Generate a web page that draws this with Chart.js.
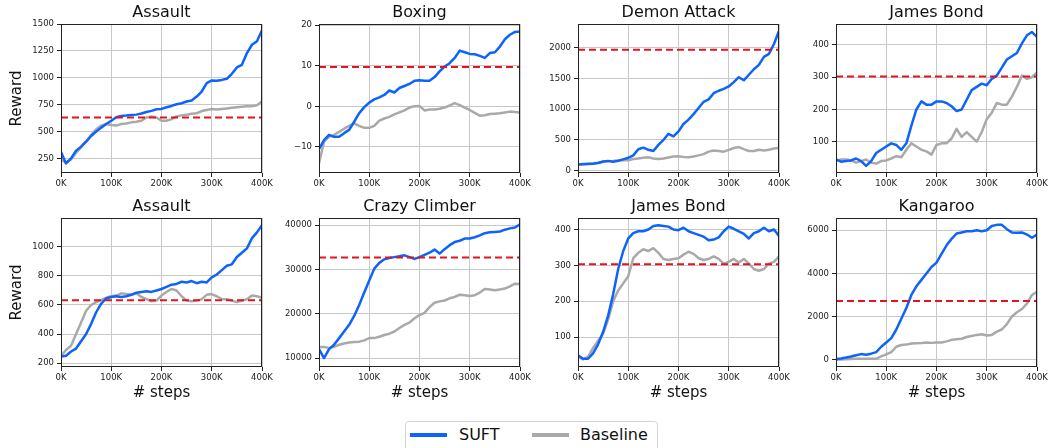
<!DOCTYPE html>
<html>
<head>
<meta charset="utf-8">
<script src="https://cdn.jsdelivr.net/npm/chart.js@4.4.0/dist/chart.umd.min.js"></script>
<style>
  body { margin: 0; width: 1048px; height: 448px; background: #fff; position: relative; overflow: hidden; font-family: 'DejaVu Sans', sans-serif; }
  .panel { position: absolute; }
  #legend { position: absolute; left: 405px; top: 421px; width: 251px; height: 40px; border: 1px solid #d4d4d4; border-radius: 4px; background: #fff; }
  #legend .sw { position: absolute; top: 11px; width: 37px; height: 4px; }
  #legend .lb { position: absolute; top: 3px; font-size: 16px; line-height: 20px; color: #111; }
</style>
</head>
<body>
<div id="charts"></div>
<div id="legend">
  <span class="sw" style="left:4px;background:#0d63fb"></span><span class="lb" style="left:53px">SUFT</span>
  <span class="sw" style="left:126px;background:#a9a9a9"></span><span class="lb" style="left:174px">Baseline</span>
</div>
<script>
// training steps (x axis)
const steps = [0,10000,20000,30000,40000,50000,60000,70000,80000,90000,100000,110000,120000,130000,140000,150000,160000,170000,180000,190000,200000,210000,220000,230000,240000,250000,260000,270000,280000,290000,300000,310000,320000,330000,340000,350000,360000,370000,380000,390000,400000];
const xTicks = [0, 100000, 200000, 300000, 400000];

const titles = ['Assault', 'Boxing', 'Demon Attack', 'James Bond', 'Assault', 'Crazy Climber', 'James Bond', 'Kangaroo'];

const assault1Suft = [310,203,250,322,359,405,458,500,536,570,600,633,645,648,654,657,667,682,692,707,710,726,738,754,763,779,788,825,872,950,975,972,980,990,1037,1096,1120,1230,1307,1340,1441];
const assault1Base = [240,210,240,300,355,410,470,520,555,570,560,555,570,575,585,590,600,630,640,630,600,600,615,640,650,655,665,670,690,700,710,705,710,715,720,725,730,735,735,745,780];

const boxingSuft = [-10.5,-8.3,-7.0,-7.5,-7.5,-6.6,-5.8,-3.8,-1.7,-0.2,0.9,1.7,2.2,2.8,3.9,3.4,4.5,5.0,5.5,6.3,6.4,6.3,6.3,7.2,8.6,9.8,10.6,11.9,13.7,13.3,12.9,12.8,12.4,11.9,13.1,13.3,14.7,16.5,17.6,18.3,18.4];
const boxingBase = [-14,-8.7,-7.5,-7,-6.3,-5.5,-4.8,-4.2,-4.8,-5.3,-5.3,-4.8,-3.5,-3.0,-2.6,-2.0,-1.5,-1.0,-0.3,0.0,0.1,-1.0,-0.8,-0.8,-0.6,-0.3,0.2,0.8,0.3,-0.3,-0.9,-1.6,-2.3,-2.2,-1.9,-1.8,-1.7,-1.5,-1.3,-1.4,-1.5];

const demonSuft = [100,105,110,115,125,150,160,145,160,185,210,250,350,375,340,320,420,500,600,560,640,760,830,920,1020,1120,1160,1260,1300,1330,1370,1440,1520,1470,1560,1650,1720,1850,1900,2060,2270];
const demonBase = [100,110,115,120,130,145,155,160,170,175,170,190,200,210,220,200,190,200,215,230,235,225,220,230,250,270,310,330,320,310,340,370,385,350,320,320,340,330,340,360,370];

const jamesbond1Suft = [45,38,40,42,48,40,25,40,65,75,85,95,90,75,95,150,200,225,215,215,225,225,220,210,195,200,230,260,270,280,275,295,305,330,355,365,375,405,430,440,425];
const jamesbond1Base = [40,45,45,42,35,40,45,35,32,40,42,48,55,52,75,95,85,75,70,60,90,95,95,110,140,115,130,115,100,130,170,190,220,215,215,240,270,305,295,300,315];

const assault2Suft = [245,250,280,300,350,400,470,550,610,645,655,660,655,660,670,685,690,695,690,700,710,725,740,745,760,755,765,750,760,755,790,810,840,870,880,930,960,990,1060,1100,1150];
const assault2Base = [250,290,320,400,480,560,600,620,635,650,660,665,680,675,670,680,655,640,625,630,665,690,710,700,660,630,625,630,640,670,675,660,640,640,630,620,630,640,665,660,650];

const climberSuft = [12000,10000,12000,13000,14500,16000,17500,19500,22000,24800,27500,30200,31500,32300,32600,32800,33000,33200,32800,32400,32800,33300,33800,34500,33600,34600,35500,36200,36500,37000,37000,37300,37700,38200,38400,38500,38600,39000,39300,39500,40200];
const climberBase = [12500,12500,12300,12500,13000,13300,13500,13600,13700,14000,14500,14500,14800,15200,15500,16000,16800,17500,18000,19000,19700,20200,21500,22500,22800,23000,23500,23800,24300,24200,24000,24200,24800,25600,25500,25300,25500,25700,26200,26800,26700];

const jamesbond2Suft = [50,40,40,55,80,115,160,220,290,340,375,390,395,395,400,410,412,410,408,400,398,405,395,390,385,380,370,372,378,395,408,402,395,388,375,390,395,405,395,400,382];
const jamesbond2Base = [45,38,45,70,90,110,150,200,230,250,270,320,335,345,340,348,335,318,315,318,320,330,338,332,320,315,318,325,318,305,310,318,308,318,305,290,285,290,305,310,325];

const kangarooSuft = [30,60,100,150,210,260,230,280,350,600,800,1000,1400,1900,2400,3000,3400,3700,4000,4300,4500,4900,5300,5600,5850,5900,5950,5950,6000,5950,6000,6200,6250,6250,6050,5900,5880,5900,5800,5650,5800];
const kangarooBase = [0,10,20,30,40,40,40,40,50,150,250,350,600,680,700,750,760,770,800,780,800,800,850,920,950,970,1050,1100,1150,1180,1120,1150,1300,1400,1650,2000,2200,2350,2600,3000,3150];

// dashed reference score for each game
const refScores = [630, 9.7, 1967, 302, 632, 32700, 303, 2723];

// y tick labels and axis ranges
const yTicks = [
  [250,500,750,1000,1250,1500],
  [-10,0,10,20],
  [0,500,1000,1500,2000],
  [100,200,300,400],
  [200,400,600,800,1000],
  [10000,20000,30000,40000],
  [100,200,300,400],
  [0,2000,4000,6000]
];
const yMins = [114, -16.4, -37, 3, 173, 7975, 17, -338];
const yMaxs = [1500, 20.25, 2385, 465, 1199, 41640, 432, 6568];

const suftSeries = [assault1Suft, boxingSuft, demonSuft, jamesbond1Suft, assault2Suft, climberSuft, jamesbond2Suft, kangarooSuft];
const baseSeries = [assault1Base, boxingBase, demonBase, jamesbond1Base, assault2Base, climberBase, jamesbond2Base, kangarooBase];

// plot area positions on the page
const plotLefts = [61, 319, 578, 836];
const plotWidth = 201;
const padRight = 14;

Chart.defaults.font.family = "'DejaVu Sans', sans-serif";
Chart.defaults.color = '#222';

const framePlugin = {
  id: 'frame',
  afterDraw(chart) {
    const a = chart.chartArea;
    const c = chart.ctx;
    c.save();
    c.strokeStyle = '#222';
    c.lineWidth = 1;
    c.strokeRect(a.left + 0.5, a.top + 0.5, a.width - 1, a.height - 1);
    c.restore();
  }
};

const toPoints = (arr) => arr.map((v, i) => ({ x: steps[i], y: v }));
const fmtNum = (v) => v < 0 ? '\u2212' + Math.abs(v) : String(v);

for (let p = 0; p < 8; p++) {
  const row = Math.floor(p / 4);
  const col = p % 4;
  const yW = col === 0 ? 61 : 50;
  const xH = row === 0 ? 20 : 40;
  const top = row === 0 ? 0 : 194;

  const box = document.createElement('div');
  box.className = 'panel';
  box.style.left = (plotLefts[col] - yW) + 'px';
  box.style.top = top + 'px';
  box.style.width = (yW + plotWidth + padRight) + 'px';
  box.style.height = (24 + 149 + xH) + 'px';
  const cv = document.createElement('canvas');
  box.appendChild(cv);
  document.getElementById('charts').appendChild(box);

  new Chart(cv.getContext('2d'), {
    type: 'line',
    data: {
      datasets: [
        {
          label: 'ref',
          data: [{ x: 0, y: refScores[p] }, { x: 400000, y: refScores[p] }],
          borderColor: '#e3141e',
          borderWidth: 2,
          borderDash: [7, 4],
          pointRadius: 0
        },
        {
          label: 'SUFT',
          data: toPoints(suftSeries[p]),
          borderColor: '#0d63fb',
          borderWidth: 2.5,
          pointRadius: 0,
          borderJoinStyle: 'round'
        },
        {
          label: 'Baseline',
          data: toPoints(baseSeries[p]),
          borderColor: '#a9a9a9',
          borderWidth: 2.5,
          pointRadius: 0,
          borderJoinStyle: 'round'
        }
      ]
    },
    options: {
      responsive: true,
      maintainAspectRatio: false,
      animation: false,
      layout: { padding: { left: 0, right: padRight, top: 0, bottom: 0 } },
      plugins: {
        legend: { display: false },
        tooltip: { enabled: false },
        title: {
          display: true,
          text: titles[p],
          fullSize: false,
          color: '#111',
          font: { size: 16, weight: 'normal' },
          padding: { top: 3, bottom: 1.8 }
        }
      },
      scales: {
        x: {
          type: 'linear',
          min: 0,
          max: 400000,
          afterBuildTicks: (s) => { s.ticks = xTicks.map(v => ({ value: v })); },
          afterFit: (s) => { s.height = xH; },
          ticks: {
            font: { size: 8.5 },
            color: '#222',
            padding: 2,
            maxRotation: 0,
            callback: (v) => (v / 1000) + 'K'
          },
          grid: { color: '#c8c8c8', tickColor: '#222', tickLength: 4 },
          border: { display: false },
          title: {
            display: row === 1,
            text: '# steps',
            color: '#111',
            font: { size: 15 },
            padding: { top: 0, bottom: 5 }
          }
        },
        y: {
          min: yMins[p],
          max: yMaxs[p],
          afterBuildTicks: (s) => { s.ticks = yTicks[p].map(v => ({ value: v })); },
          afterFit: (s) => { s.width = yW; },
          ticks: {
            font: { size: 8.5 },
            color: '#222',
            padding: 3,
            callback: (v) => fmtNum(v)
          },
          grid: { color: '#c8c8c8', tickColor: '#222', tickLength: 4 },
          border: { display: false },
          title: {
            display: col === 0,
            text: 'Reward',
            color: '#111',
            font: { size: 15 },
            padding: { top: 8, bottom: 0 }
          }
        }
      }
    },
    plugins: [framePlugin]
  });
}
</script>
</body>
</html>
